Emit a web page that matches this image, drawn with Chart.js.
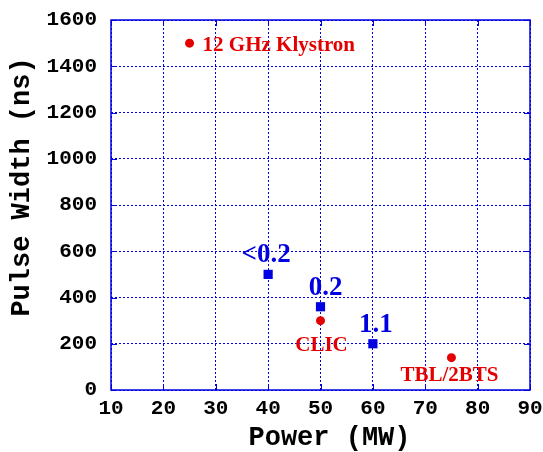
<!DOCTYPE html>
<html>
<head>
<meta charset="utf-8">
<script src="https://cdn.jsdelivr.net/npm/chart.js@4/dist/chart.umd.min.js"></script>
<style>
html,body{margin:0;padding:0;background:#fff;}
#wrap{width:543px;height:452px;}
</style>
</head>
<body>
<div id="wrap"><canvas id="c" width="543" height="452"></canvas></div>
<script>
// Data
const redX = [25, 50, 75];
const redY = [1500, 300, 140];
const redLabels = ['12 GHz Klystron', 'CLIC', 'TBL/2BTS'];
const blueX = [40, 50, 60];
const blueY = [500, 360, 200];
const blueLabels = ['<0.2', '0.2', '1.1'];
const xTicks = [10, 20, 30, 40, 50, 60, 70, 80, 90];
const yTicks = [0, 200, 400, 600, 800, 1000, 1200, 1400, 1600];
const xTitle = 'Power (MW)';
const yTitle = 'Pulse Width (ns)';

const RED = 'rgb(228,0,0)';
const BLUE = 'rgb(0,0,225)';
const MONO = "'Liberation Mono','Courier New',monospace";
const SERIF = "'Liberation Serif','Times New Roman',serif";

const redPts = redX.map((x, i) => ({x, y: redY[i]}));
const bluePts = blueX.map((x, i) => ({x, y: blueY[i]}));

// label placement styles (offsets in px relative to point, align)
const redLabelStyle = [
  {dx: 13, dy: 8, align: 'left'},
  {dx: 1, dy: 30, align: 'center'},
  {dx: -2, dy: 23, align: 'center'}
];
const blueLabelStyle = [
  {dx: -2, dy: -12, align: 'center'},
  {dx: 5, dy: -12, align: 'center'},
  {dx: 3, dy: -12, align: 'center'}
];

const framePlugin = {
  id: 'frame',
  afterDatasetsDraw(chart) {
    const {ctx, chartArea: a, scales: {x, y}} = chart;
    ctx.save();
    ctx.strokeStyle = BLUE;
    ctx.lineWidth = 1.5;
    ctx.setLineDash([]);
    ctx.strokeRect(a.left, a.top, a.right - a.left, a.bottom - a.top);
    ctx.lineWidth = 1;
    const tl = 6;
    ctx.beginPath();
    xTicks.forEach(v => {
      const px = Math.round(x.getPixelForValue(v)) + 0.5;
      ctx.moveTo(px, a.bottom); ctx.lineTo(px, a.bottom - tl);
      ctx.moveTo(px, a.top); ctx.lineTo(px, a.top + tl);
    });
    yTicks.forEach(v => {
      const py = Math.round(y.getPixelForValue(v)) + 0.5;
      ctx.moveTo(a.left, py); ctx.lineTo(a.left + tl, py);
      ctx.moveTo(a.right, py); ctx.lineTo(a.right - tl, py);
    });
    ctx.stroke();
    ctx.restore();
  },
  afterDraw(chart) {
    const {ctx, chartArea: a, scales: {x, y}} = chart;
    ctx.save();
    // point labels
    ctx.textBaseline = 'alphabetic';
    ctx.font = 'bold 21px ' + SERIF;
    ctx.fillStyle = RED;
    redPts.forEach((p, i) => {
      const s = redLabelStyle[i];
      ctx.textAlign = s.align;
      ctx.fillText(redLabels[i], x.getPixelForValue(p.x) + s.dx, y.getPixelForValue(p.y) + s.dy);
    });
    ctx.font = 'bold 27px ' + SERIF;
    ctx.fillStyle = BLUE;
    bluePts.forEach((p, i) => {
      const s = blueLabelStyle[i];
      ctx.textAlign = s.align;
      ctx.fillText(blueLabels[i], x.getPixelForValue(p.x) + s.dx, y.getPixelForValue(p.y) + s.dy);
    });
    // axis titles
    ctx.fillStyle = '#000';
    ctx.font = 'bold 27px ' + MONO;
    ctx.textAlign = 'center';
    ctx.textBaseline = 'middle';
    ctx.fillText(xTitle, (a.left + a.right) / 2 + 9, a.bottom + 48);
    ctx.translate(22, (a.top + a.bottom) / 2 - 18);
    ctx.rotate(-Math.PI / 2);
    ctx.fillText(yTitle, 0, 0);
    ctx.restore();
  }
};

new Chart(document.getElementById('c'), {
  type: 'scatter',
  data: {
    datasets: [
      {data: redPts, backgroundColor: RED, borderColor: RED, pointStyle: 'circle', pointRadius: 4.5, borderWidth: 0},
      {data: bluePts, backgroundColor: BLUE, borderColor: BLUE, pointStyle: 'rect', pointRadius: 6.5, borderWidth: 0}
    ]
  },
  options: {
    responsive: false,
    animation: false,
    devicePixelRatio: 1,
    layout: {padding: {left: 47, right: 13, top: 20, bottom: 0}},
    plugins: {legend: {display: false}, tooltip: {enabled: false}},
    scales: {
      x: {
        type: 'linear', min: 10, max: 90,
        afterBuildTicks(s) { s.ticks = xTicks.map(v => ({value: v})); },
        afterFit(s) { s.height = 62; s.paddingLeft = 0; s.paddingRight = 0; },
        grid: {color: BLUE, lineWidth: 1, drawTicks: false},
        border: {display: false, dash: [2, 2]},
        ticks: {padding: 6, color: '#000', font: {family: MONO, size: 21, weight: 'bold'}, maxRotation: 0, autoSkip: false, callback: v => String(v)}
      },
      y: {
        type: 'linear', min: 0, max: 1600,
        afterBuildTicks(s) { s.ticks = yTicks.map(v => ({value: v})); },
        afterFit(s) { s.width = 64; s.paddingTop = 0; s.paddingBottom = 0; },
        grid: {color: BLUE, lineWidth: 1, drawTicks: false},
        border: {display: false, dash: [2, 2]},
        ticks: {padding: 14, color: '#000', font: {family: MONO, size: 21, weight: 'bold'}, autoSkip: false, callback: v => String(v)}
      }
    }
  },
  plugins: [framePlugin]
});
</script>
</body>
</html>
